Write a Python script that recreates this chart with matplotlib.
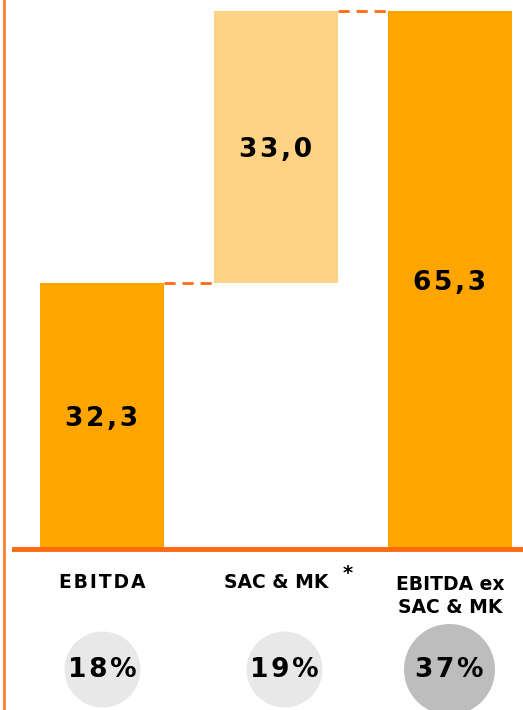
import numpy as np
import matplotlib.pyplot as plt
from matplotlib.lines import Line2D

# data
cats = ['EBITDA', 'SAC & MK', 'EBITDA ex\nSAC & MK']
vals = [32.3, 33.0, 65.3]
bases = [0.0, 32.3, 0.0]
val_labels = ['32,3', '33,0', '65,3']
pcts = ['18%', '19%', '37%']

W, H = 523, 710
fig = plt.figure(figsize=(W / 100, H / 100), dpi=100)
ax = fig.add_axes([0, 0, 1, 1])
ax.axis('off')

def spaced(s):
    # a bit of letter spacing, like the original
    return '\u200a'.join(s)

# pixel mapping: zero line at y=549 px, 65.3 at y=11 px
ppu = (549 - 11) / 65.3
ylo = -(H - 549) / ppu
yhi = 65.3 + 11 / ppu
step = 174.0
xlo = -102 / step
xhi = (W - 102) / step
ax.set_xlim(xlo, xhi)
ax.set_ylim(ylo, yhi)

x = np.arange(len(cats))
w = 124 / step
colors = ['#FFA500', '#FFD383', '#FFA500']
ax.bar(x, vals, w, bottom=bases, color=colors, zorder=2)

# connectors
ax.plot([x[0] + w / 2, x[1] - w / 2], [vals[0], vals[0]], color='#FF6A10',
        lw=2, dashes=(4, 2.5), zorder=3)
ax.plot([x[1] + w / 2, x[2] - w / 2], [bases[1] + vals[1]] * 2, color='#FF6A10',
        lw=2, dashes=(4, 2.5), zorder=3)

# values inside bars
for i in range(len(vals)):
    ax.text(x[i], bases[i] + vals[i] / 2 - 0.35, spaced(val_labels[i]), ha='center', va='center',
            fontsize=19, fontweight='bold', color='black', zorder=4)

# baseline and left border
ax.axhline(0, xmin=14 / W, xmax=1, color='#FF6A10', lw=3.5, zorder=3)
fig.add_artist(Line2D([3.5 / W, 3.5 / W], [0, 1], color='#FF8030', lw=2,
                      transform=fig.transFigure))

def py(p):
    # pixel-from-top to data y
    return (H - p) / ppu + ylo

# category labels
ax.text(x[0], py(582), spaced('EBITDA'), ha='center', va='center', fontsize=13.5, fontweight='bold')
ax.text(x[1], py(582), 'SAC & MK', ha='center', va='center', fontsize=13.5, fontweight='bold')
ax.text(x[1] + 72 / step, py(574), '*', ha='center', va='center', fontsize=14, fontweight='bold')
ax.text(x[2], py(596), 'EBITDA ex\nSAC & MK', ha='center', va='center', fontsize=13.5,
        fontweight='bold', linespacing=1.3)

# percentage circles
cx = [102, 284, 449]
rad = [38, 38, 45.5]
ccol = ['#E8E8E8', '#E8E8E8', '#BDBDBD']
for i in range(3):
    s = (2 * rad[i] * 0.72) ** 2
    ax.scatter((cx[i] - 102) / step, py(668.5), s=s, color=ccol[i], zorder=2, linewidths=0)
    ax.text((cx[i] - 102) / step, py(670), spaced(pcts[i]), ha='center', va='center',
            fontsize=19, fontweight='bold', zorder=3)

fig.savefig('out.png', dpi=100)
